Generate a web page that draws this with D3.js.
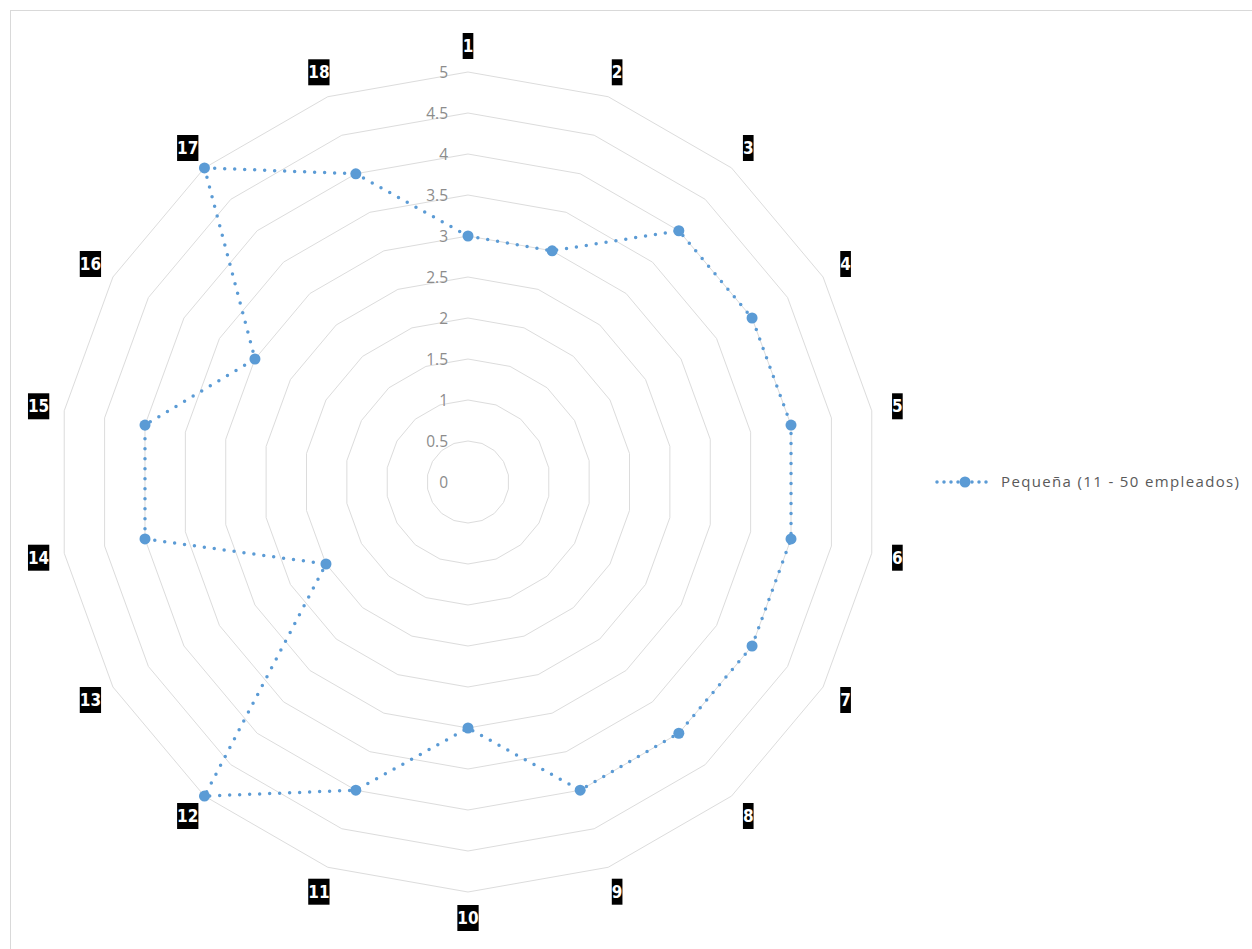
<!DOCTYPE html>
<html>
<head>
<meta charset="utf-8">
<script src="https://cdn.jsdelivr.net/npm/d3@7"></script>
<style>
  body { margin: 0; background: #fff; }
  svg { display: block; }
  .tick-label { font-family: "Open Sans", sans-serif; font-size: 15.5px; fill: #8c8c8c; }
  .cat-label { font-family: "DejaVu Sans Condensed", "DejaVu Sans", sans-serif; font-weight: bold; font-size: 17px; fill: #fff; }
  .legend-text { font-family: "Open Sans", sans-serif; font-size: 15px; fill: #595959; }
</style>
</head>
<body>
<svg width="1252" height="949"></svg>
<script>
// chart data
var categories = ["1", "2", "3", "4", "5", "6", "7", "8", "9", "10", "11", "12", "13", "14", "15", "16", "17", "18"];
var values = [3, 3, 4, 4, 4, 4, 4, 4, 4, 3, 4, 5, 2, 4, 4, 3, 5, 4];
var tickValues = [0, 0.5, 1, 1.5, 2, 2.5, 3, 3.5, 4, 4.5, 5];
var seriesName = "Pequeña (11 - 50 empleados)";

var svg = d3.select("svg"),
  cx = 468, cy = 482,
  outerR = 410;

var color = "#5b9bd5";

// chart frame
svg.append("rect")
  .attr("x", 10.5).attr("y", 10.5)
  .attr("width", 1260).attr("height", 960)
  .attr("fill", "none")
  .attr("stroke", "#d9d9d9");

var r = d3.scaleLinear().domain([0, 5]).range([0, outerR]);

var angle = d3.scaleBand()
  .domain(categories)
  .range([0, 2 * Math.PI])
  .align(0);

function ang(c) { return angle(c); }

var g = svg.append("g").attr("transform", "translate(" + cx + "," + cy + ")");

// grid rings
var ringLine = d3.lineRadial()
  .angle(function (d) { return ang(d); })
  .curve(d3.curveLinearClosed);

g.selectAll("path.ring")
  .data(tickValues.filter(function (t) { return t > 0; }))
  .enter().append("path")
  .attr("class", "ring")
  .attr("d", function (t) {
    return ringLine.radius(r(t))(categories);
  })
  .attr("fill", "none")
  .attr("stroke", "#dcdcdc")
  .attr("stroke-width", 1);

// value axis labels
g.selectAll("text.tick-label")
  .data(tickValues)
  .enter().append("text")
  .attr("class", "tick-label")
  .attr("x", -20)
  .attr("y", function (t) { return -r(t) + 1; })
  .attr("dy", "0.35em")
  .attr("text-anchor", "end")
  .text(function (t) { return t; });

// category labels on black boxes
var labelR = 436;
var cats = g.selectAll("g.cat")
  .data(categories)
  .enter().append("g")
  .attr("class", "cat")
  .attr("transform", function (c) {
    var a = ang(c);
    return "translate(" + (labelR * Math.sin(a)) + "," + (-labelR * Math.cos(a)) + ")";
  });

cats.append("rect").attr("fill", "#000");
cats.append("text")
  .attr("class", "cat-label")
  .attr("text-anchor", "middle")
  .attr("dy", "0.36em")
  .text(function (c) { return c; });
cats.each(function () {
  var sel = d3.select(this);
  var bb = sel.select("text").node().getBBox();
  sel.select("rect")
    .attr("x", bb.x).attr("width", bb.width)
    .attr("y", -13).attr("height", 26);
});

// data series
var seriesLine = d3.lineRadial()
  .angle(function (d, i) { return ang(categories[i]); })
  .radius(function (d) { return r(d); })
  .curve(d3.curveLinearClosed);

g.append("path")
  .attr("d", seriesLine(values))
  .attr("fill", "none")
  .attr("stroke", color)
  .attr("stroke-width", 3.5)
  .attr("stroke-linecap", "round")
  .attr("stroke-dasharray", "0,10");

g.selectAll("circle.pt")
  .data(values)
  .enter().append("circle")
  .attr("class", "pt")
  .attr("cx", function (d, i) { return r(d) * Math.sin(ang(categories[i])); })
  .attr("cy", function (d, i) { return -r(d) * Math.cos(ang(categories[i])); })
  .attr("r", 5.5)
  .attr("fill", color);

// legend
var legend = svg.append("g").attr("transform", "translate(937," + cy + ")");
legend.append("line")
  .attr("x1", 0).attr("x2", 54)
  .attr("stroke", color)
  .attr("stroke-width", 3.5)
  .attr("stroke-linecap", "round")
  .attr("stroke-dasharray", "0,7");
legend.append("circle")
  .attr("cx", 28).attr("r", 5.5)
  .attr("fill", color);
legend.append("text")
  .attr("class", "legend-text")
  .attr("x", 64)
  .attr("dy", "0.35em")
  .attr("textLength", 238)
  .attr("lengthAdjust", "spacing")
  .text(seriesName);
</script>
</body>
</html>
